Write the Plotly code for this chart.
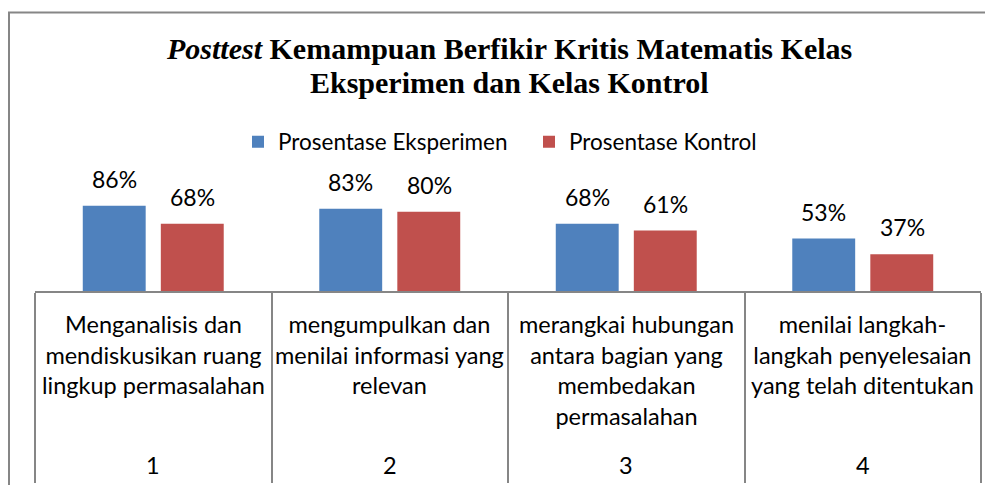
import plotly.graph_objects as go

categories = ["1", "2", "3", "4"]
category_texts = [
    "Menganalisis dan<br>mendiskusikan ruang<br>lingkup permasalahan",
    "mengumpulkan dan<br>menilai informasi yang<br>relevan",
    "merangkai hubungan<br>antara bagian yang<br>membedakan<br>permasalahan",
    "menilai langkah-<br>langkah penyelesaian<br>yang telah ditentukan",
]
eksperimen = [86, 83, 68, 53]
kontrol = [68, 80, 61, 37]
series_names = ["Prosentase Eksperimen", "Prosentase Kontrol"]
title_line1 = "<i>Posttest</i> Kemampuan Berfikir Kritis Matematis Kelas"
title_line2 = "Eksperimen dan Kelas Kontrol"

BLUE = "#4F81BD"
RED = "#C0504D"
GRAY = "#868686"
SANS = "Lato, Calibri, Carlito, sans-serif"
SERIF = "Liberation Serif, Times New Roman, serif"

PAGE_W, PAGE_H = 993, 485
OFF = 8  # default page body margin
W, H = PAGE_W - OFF, PAGE_H - OFF
# plot area in page pixels
PL, PR, PT, PB = 35, 981, 192, 291
ML, MR = PL - OFF, PAGE_W - PR
MT, MB = PT - OFF, PAGE_H - PB
plot_w = PR - PL
plot_h = PB - PT
YMAX = 100


def py(px):  # page pixel row -> paper y
    return (PB - px) / plot_h


def pxx(px):  # page pixel col -> paper x
    return (px - PL) / plot_w


BAR_W = 0.266
fig = go.Figure()
fig.add_trace(go.Bar(x=categories, y=eksperimen, name=series_names[0],
                     marker=dict(color=BLUE, line=dict(width=0)),
                     width=BAR_W, offset=-0.298, hoverinfo="skip"))
fig.add_trace(go.Bar(x=categories, y=kontrol, name=series_names[1],
                     marker=dict(color=RED, line=dict(width=0)),
                     width=BAR_W, offset=0.032, hoverinfo="skip"))

annotations = []
# data labels
for i, (e, k) in enumerate(zip(eksperimen, kontrol)):
    for val, dx in ((e, -0.165), (k, 0.167)):
        annotations.append(dict(x=i + dx, y=val, xref="x", yref="y",
                                text=f"{val}%", showarrow=False,
                                yanchor="bottom", yshift=11,
                                font=dict(family=SANS, size=23, color="#000")))
# category texts and numbers
for i, (c, t) in enumerate(zip(categories, category_texts)):
    annotations.append(dict(x=i, y=py(308), xref="x", yref="paper", text=t,
                            showarrow=False, yanchor="top", align="center",
                            font=dict(family=SANS, size=23.5, color="#000")))
    annotations.append(dict(x=i, y=py(465), xref="x", yref="paper", text=c,
                            showarrow=False, yanchor="middle",
                            font=dict(family=SANS, size=23.5, color="#000")))
# title
annotations.append(dict(x=pxx(509), y=py(49), xref="paper", yref="paper",
                        text=f"<b>{title_line1}</b>", showarrow=False,
                        yanchor="middle", xanchor="center",
                        font=dict(family=SERIF, size=30, color="#000")))
annotations.append(dict(x=pxx(509), y=py(83), xref="paper", yref="paper",
                        text=f"<b>{title_line2}</b>", showarrow=False,
                        yanchor="middle", xanchor="center",
                        font=dict(family=SERIF, size=30, color="#000")))

shapes = [
    dict(type="line", xref="paper", yref="paper", x0=pxx(8), x1=pxx(1000),
         y0=py(12.5), y1=py(12.5), line=dict(color=GRAY, width=2)),
    dict(type="line", xref="paper", yref="paper", x0=pxx(9), x1=pxx(9),
         y0=py(12), y1=py(500), line=dict(color=GRAY, width=2)),
]

fig.update_layout(
    width=W, height=H,
    margin=dict(l=ML, r=MR, t=MT, b=MB, pad=0, autoexpand=False),
    paper_bgcolor="white", plot_bgcolor="white",
    barmode="overlay",
    showlegend=True,
    legend=dict(orientation="h", xref="container", yref="container",
                x=(238 - OFF) / W, xanchor="left",
                y=1 - (142 - OFF) / H, yanchor="middle",
                font=dict(family=SANS, size=22.5, color="#000"),
                entrywidth=246, itemwidth=30, traceorder="normal",
                bgcolor="rgba(0,0,0,0)"),
    xaxis=dict(type="category", range=[-0.5, 3.5], showgrid=False,
               showline=True, linecolor=GRAY, linewidth=2,
               ticks="outside", tickson="boundaries", ticklen=190,
               tickcolor=GRAY, tickwidth=2, showticklabels=False,
               automargin=False, fixedrange=True),
    yaxis=dict(range=[0, YMAX], visible=False, fixedrange=True,
               automargin=False),
    annotations=annotations,
    shapes=shapes,
)

fig.write_html("out.html")
